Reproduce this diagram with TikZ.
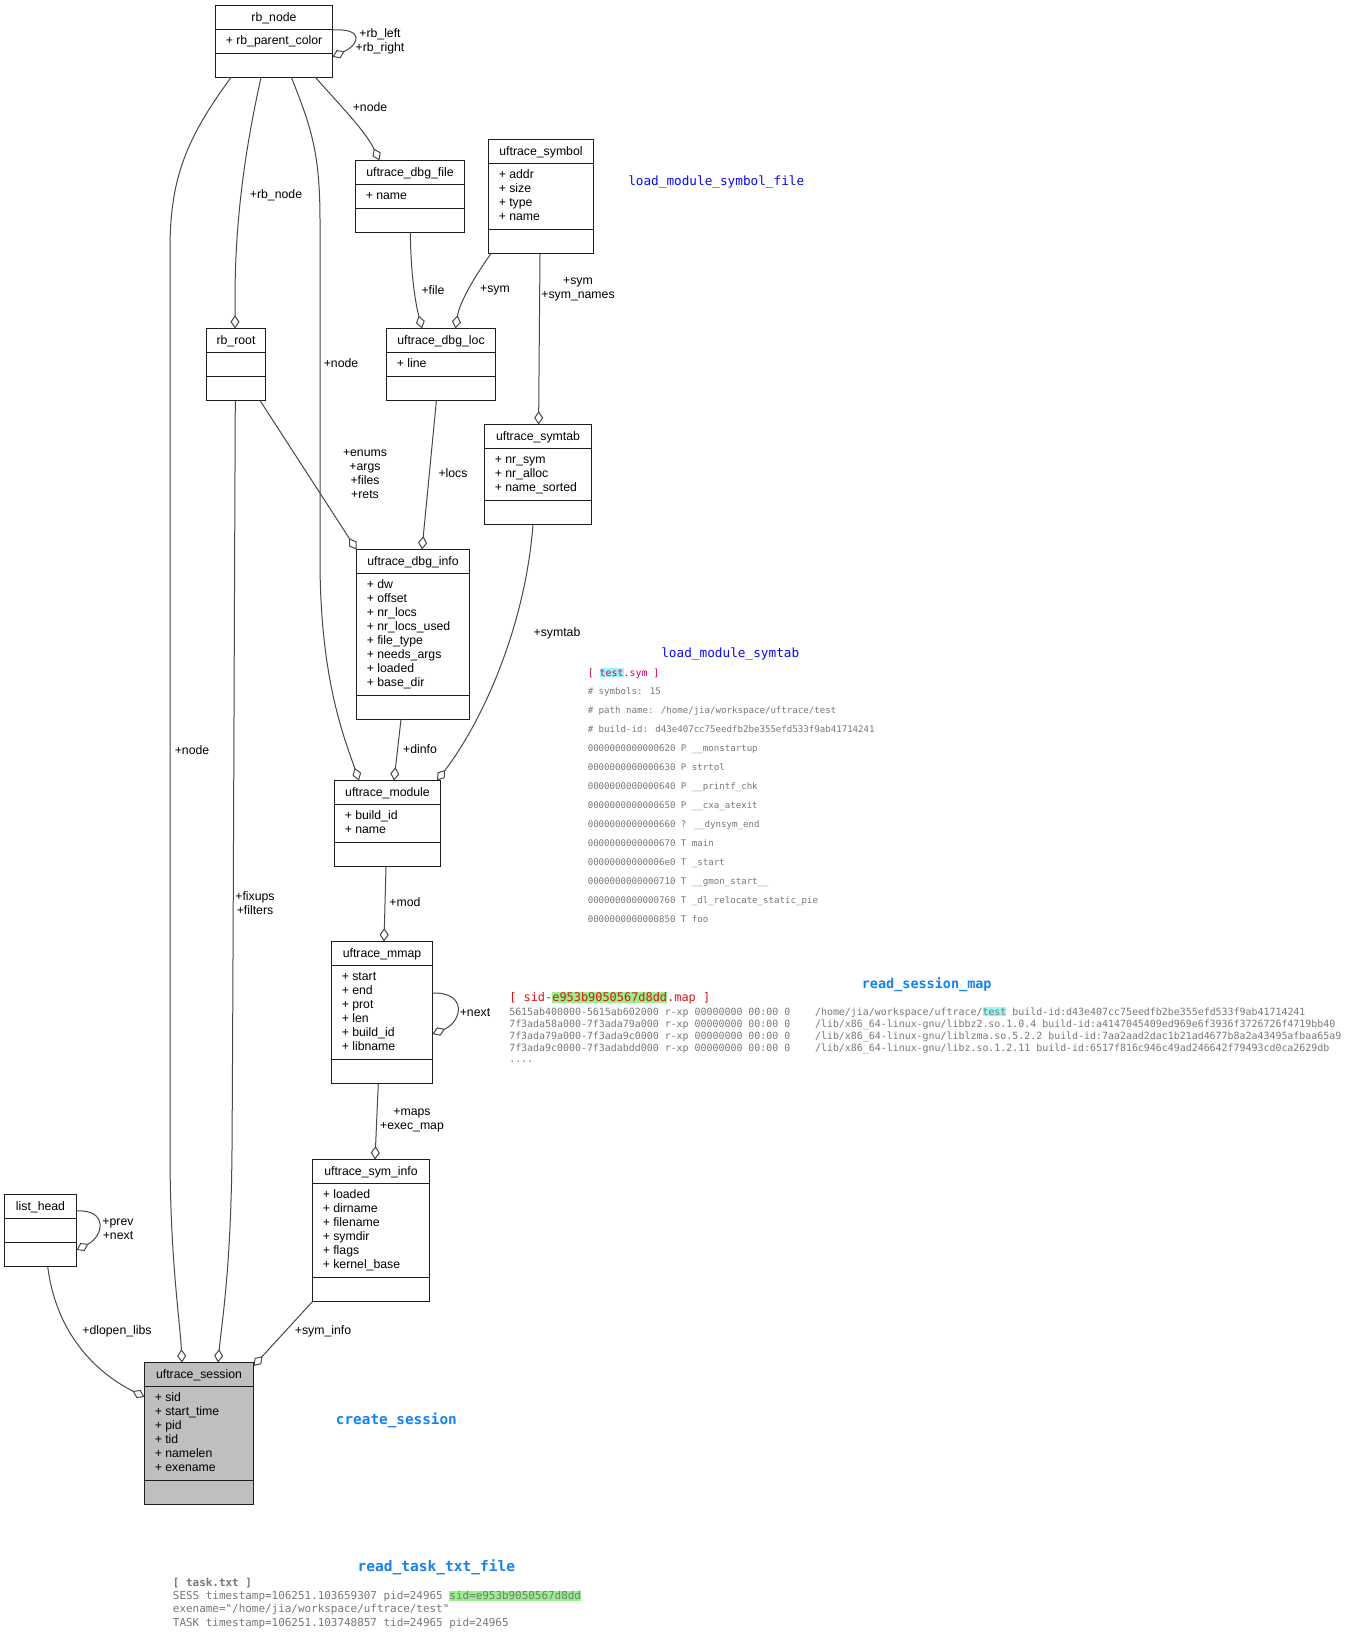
\documentclass[tikz,border=0pt]{standalone}
\usepackage{fontspec}
\setmainfont{Liberation Sans}
\newfontfamily\codefont{DejaVu Sans Mono}
\usetikzlibrary{arrows.meta}

\definecolor{edgegray}{HTML}{484848}
\definecolor{boxline}{HTML}{1E1E1E}
\definecolor{sessiongray}{HTML}{BFBFBF}
\definecolor{titleblue}{RGB}{10,10,240}
\definecolor{funcblue}{RGB}{20,130,240}
\definecolor{symred}{RGB}{215,0,110}
\definecolor{mapred}{RGB}{220,20,20}
\definecolor{hlcyan}{RGB}{150,248,248}
\definecolor{hlgreen}{RGB}{150,240,140}
\definecolor{codegray}{HTML}{787878}

\newcommand\umlfont{\fontsize{9.2}{10.5}\selectfont}
\newcommand\hlmark[2]{{\setlength{\fboxsep}{0pt}\colorbox{#1}{\vphantom{[]}#2}}}

\tikzset{
  umlframe/.style={draw=boxline, line width=0.8pt, inner sep=0pt, outer sep=0pt, anchor=north west},
  umlrule/.style={draw=boxline, line width=0.8pt},
  umltext/.style={inner sep=0pt, font=\umlfont},
  assoc/.style={draw=edgegray, line width=0.75pt, -{Diamond[open, length=10pt, width=6.8pt]}},
  elabel/.style={inner sep=0pt, font=\umlfont, align=center},
  annot/.style={anchor=base west, inner sep=0pt},
}

% class box: [fill]{name}{left}{top}{width}{title}{attribute rows}{attributes}
\newcommand\umlbox[8][white]{%
  \pgfmathsetmacro\umlh{58+14*#7}%
  \pgfmathsetmacro\umlsep{34+14*#7}%
  \node[umlframe, fill=#1, minimum width=#5*0.75pt, minimum height=\umlh*0.75pt] (#2) at (#3,#4) {};
  \draw[umlrule] (#3,#4+24) -- ++(#5,0);
  \draw[umlrule] (#3,#4+\umlsep) -- ++(#5,0);
  \node[umltext, anchor=base] (#2-title) at (#3+#5/2,#4+16) {#6};
  \foreach \umlattr [count=\umlattrno from 0] in {#8} {%
    \node[umltext, anchor=base west] (#2-a\umlattrno) at (#3+10,#4+39+14*\umlattrno) {\umlattr};}%
}

\begin{document}
\begin{tikzpicture}[x=0.75pt, y=-0.75pt]
\fill[white] (0,0) rectangle (1363,1642);
\useasboundingbox (0,0) rectangle (1363,1642);

% ---------- classes ----------
\umlbox{rbnode}{215.5}{5.5}{117}{rb\_node}{1}{+ rb\_parent\_color}
\umlbox{dbgfile}{355.5}{160.5}{109}{uftrace\_dbg\_file}{1}{+ name}
\umlbox{symbol}{488.5}{139.5}{105}{uftrace\_symbol}{4}{+ addr, + size, + type, + name}
\umlbox{rbroot}{206.5}{328.5}{59}{rb\_root}{1}{}
\umlbox{dbgloc}{386.5}{328.5}{109}{uftrace\_dbg\_loc}{1}{+ line}
\umlbox{symtab}{484.5}{424.5}{107}{uftrace\_symtab}{3}{+ nr\_sym, + nr\_alloc, + name\_sorted}
\umlbox{dbginfo}{356.5}{549.5}{113}{uftrace\_dbg\_info}{8}{+ dw, + offset, + nr\_locs, + nr\_locs\_used, + file\_type, + needs\_args, + loaded, + base\_dir}
\umlbox{module}{334.5}{780.5}{106}{uftrace\_module}{2}{+ build\_id, + name}
\umlbox{mmap}{331.5}{941.5}{101}{uftrace\_mmap}{6}{+ start, + end, + prot, + len, + build\_id, + libname}
\umlbox{syminfo}{312.5}{1159.5}{117}{uftrace\_sym\_info}{6}{+ loaded, + dirname, + filename, + symdir, + flags, + kernel\_base}
\umlbox{listhead}{4.5}{1194.5}{72}{list\_head}{1}{}
\umlbox[sessiongray]{session}{144.5}{1362.5}{109}{uftrace\_session}{6}{+ sid, + start\_time, + pid, + tid, + namelen, + exename}

% ---------- associations ----------
\draw[assoc] (rbnode.east |- 0,30) .. controls (364,28) and (360,44) .. (rbnode.east |- 0,57);
\node[elabel] (l-rbself) at (380,41) {+rb\_left\\+rb\_right};

\draw[assoc] (rbnode.south -| 231,0) .. controls (185,140) and (170,180) .. (170,250)
  -- (170,1150) .. controls (170,1260) and (180,1320) .. (session.north -| 182,0);
\node[elabel] (l-node1) at (192,750) {+node};

\draw[assoc] (rbnode.south -| 261,0) .. controls (245,150) and (235,220) .. (235,300) -- (rbroot.north -| 235,0);
\node[elabel] (l-rbnode) at (276,195) {+rb\_node};

\draw[assoc] (rbnode.south -| 291.5,0) .. controls (310,125) and (320,150) .. (320,220)
  -- (320,560) .. controls (320,680) and (345,740) .. (module.north -| 359,0);
\node[elabel] (l-node2) at (341,363) {+node};

\draw[assoc] (rbnode.south -| 315.6,0) .. controls (335,100) and (365,130) .. (dbgfile.north -| 379.5,0);
\node[elabel] (l-node3) at (370,107) {+node};

\draw[assoc] (dbgfile.south -| 410.3,0) .. controls (411,280) and (416,305) .. (dbgloc.north -| 422,0);
\node[elabel] (l-file) at (433,290) {+file};

\draw[assoc] (symbol.south -| 491,0) .. controls (478,272) and (460,300) .. (dbgloc.north -| 455.4,0);
\node[elabel] (l-sym) at (495,290) {+sym};

\draw[assoc] (symbol.south -| 540,0) -- (symtab.north -| 538.6,0);
\node[elabel] (l-symnames) at (578,289) {+sym\\+sym\_names};

\draw[assoc] (rbroot.south -| 260,0) -- (dbginfo.north west);
\node[elabel] (l-enums) at (365,474) {+enums\\+args\\+files\\+rets};

\draw[assoc] (dbgloc.south -| 436.4,0) -- (dbginfo.north -| 422,0);
\node[elabel] (l-locs) at (453,473) {+locs};

\draw[assoc] (rbroot.south -| 235.3,0) .. controls (234,700) and (233,1000) .. (232,1150)
  .. controls (231,1270) and (222,1320) .. (session.north -| 218,0);
\node[elabel] (l-fixups) at (255,903) {+fixups\\+filters};

\draw[assoc] (symtab.south -| 533,0) .. controls (525,630) and (480,725) .. (module.north -| 437,0);
\node[elabel] (l-symtab) at (557,633) {+symtab};

\draw[assoc] (dbginfo.south -| 401,0) -- (module.north -| 394,0);
\node[elabel] (l-dinfo) at (420,749) {+dinfo};

\draw[assoc] (module.south -| 386,0) -- (mmap.north -| 384,0);
\node[elabel] (l-mod) at (405,902) {+mod};

\draw[assoc] (mmap.east |- 0,993) .. controls (468,992) and (462,1022) .. (mmap.east |- 0,1034);
\node[elabel] (l-next) at (475,1013) {+next};

\draw[assoc] (mmap.south -| 378.3,0) -- (syminfo.north -| 375,0);
\node[elabel] (l-maps) at (412,1120) {+maps\\+exec\_map};

\draw[assoc] (listhead.east |- 0,1211) .. controls (108,1209) and (104,1236) .. (listhead.east |- 0,1250);
\node[elabel] (l-prevnext) at (118,1229) {+prev\\+next};

\draw[assoc] (listhead.south -| 47.7,0) .. controls (56,1333) and (95,1372) .. (session.west |- 0,1397);
\node[elabel] (l-dlopen) at (117,1331) {+dlopen\_libs};

\draw[assoc] (syminfo.south west) -- (session.east |- 0,1366);
\node[elabel] (l-syminfo) at (323,1331) {+sym\_info};

% ---------- function names ----------
\node[annot, text=titleblue, font=\codefont\fontsize{9.53}{11}\selectfont] (f-symfile) at (628,185) {load\_module\_symbol\_file};
\node[annot, text=titleblue, font=\codefont\fontsize{9.55}{11}\selectfont] (f-symtab) at (661,657) {load\_module\_symtab};
\node[annot, text=funcblue, font=\codefont\bfseries\fontsize{10.1}{12}\selectfont] (f-map) at (861.6,988) {read\_session\_map};
\node[annot, text=funcblue, font=\codefont\bfseries\fontsize{10.76}{12}\selectfont] (f-session) at (335.7,1424) {create\_session};
\node[annot, text=funcblue, font=\codefont\bfseries\fontsize{10.9}{12}\selectfont] (f-task) at (357.3,1571) {read\_task\_txt\_file};

% ---------- test.sym ----------
\node[annot, text=symred, font=\codefont\fontsize{7.44}{9}\selectfont] (sym-head) at (587.5,676) {[ \hlmark{hlcyan}{test}.sym ]};
\foreach \symline [count=\symno from 0] in {
  \# symbols: 15,
  \# path name: /home/jia/workspace/uftrace/test,
  \# build-id: d43e407cc75eedfb2be355efd533f9ab41714241,
  0000000000000620 P \_\_monstartup,
  0000000000000630 P strtol,
  0000000000000640 P \_\_printf\_chk,
  0000000000000650 P \_\_cxa\_atexit,
  0000000000000660 ? \_\_dynsym\_end,
  0000000000000670 T main,
  00000000000006e0 T \_start,
  0000000000000710 T \_\_gmon\_start\_\_,
  0000000000000760 T \_dl\_relocate\_static\_pie,
  0000000000000850 T foo}
  \node[annot, text=codegray, font=\codefont\fontsize{6.83}{8}\selectfont] (sym-\symno) at (587.5,694.5+19*\symno) {\symline};

% ---------- session map ----------
\node[annot, text=mapred, font=\codefont\fontsize{8.94}{10}\selectfont] (map-head) at (509,1001) {[ sid-\hlmark{hlgreen}{e953b9050567d8dd}.map ]};
\begin{scope}[every node/.style={annot, text=codegray, font=\codefont\fontsize{7.45}{9}\selectfont}]
\node (map-l1) at (509,1015) {5615ab400000-5615ab602000 r-xp 00000000 00:00 0};
\node (map-r1) at (814.8,1015) {/home/jia/workspace/uftrace/\hlmark{hlcyan}{test} build-id:d43e407cc75eedfb2be355efd533f9ab41714241};
\node (map-l2) at (509,1027) {7f3ada58a000-7f3ada79a000 r-xp 00000000 00:00 0};
\node (map-r2) at (814.8,1027) {/lib/x86\_64-linux-gnu/libbz2.so.1.0.4 build-id:a4147045409ed969e6f3936f3726726f4719bb40};
\node (map-l3) at (509,1039) {7f3ada79a000-7f3ada9c0000 r-xp 00000000 00:00 0};
\node (map-r3) at (814.8,1039) {/lib/x86\_64-linux-gnu/liblzma.so.5.2.2 build-id:7aa2aad2dac1b21ad4677b8a2a43495afbaa65a9};
\node (map-l4) at (509,1051) {7f3ada9c0000-7f3adabdd000 r-xp 00000000 00:00 0};
\node (map-r4) at (814.8,1051) {/lib/x86\_64-linux-gnu/libz.so.1.2.11 build-id:6517f816c946c49ad246642f79493cd0ca2629db};
\node (map-more) at (509,1062) {....};
\end{scope}

% ---------- task.txt ----------
\node[annot, text=codegray, font=\codefont\bfseries\fontsize{8.2}{10}\selectfont] (task-head) at (172.7,1586.5) {[ task.txt ]};
\begin{scope}[every node/.style={annot, text=codegray, font=\codefont\fontsize{8.2}{10}\selectfont}]
\node (task-1) at (172.7,1599.5) {SESS timestamp=106251.103659307 pid=24965 \hlmark{hlgreen}{sid=e953b9050567d8dd}};
\node (task-2) at (172.7,1612.8) {exename="/home/jia/workspace/uftrace/test"};
\node (task-3) at (172.7,1626) {TASK timestamp=106251.103748857 tid=24965 pid=24965};
\end{scope}
\end{tikzpicture}
\end{document}
